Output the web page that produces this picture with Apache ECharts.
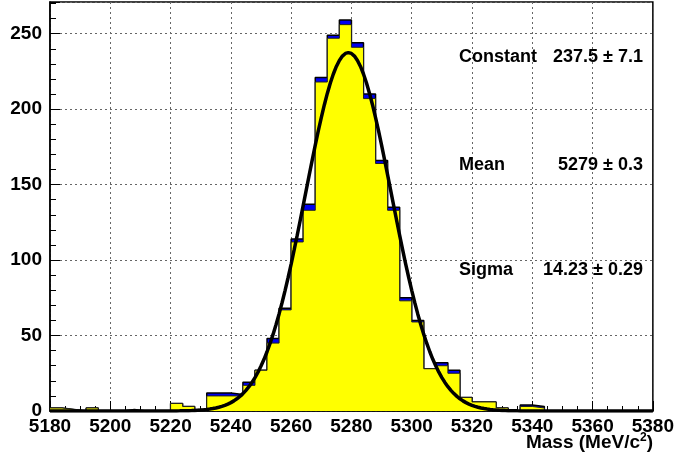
<!DOCTYPE html>
<html>
<head>
<meta charset="utf-8">
<script src="https://cdn.jsdelivr.net/npm/echarts@6/dist/echarts.min.js"></script>
<style>
  html, body { margin: 0; padding: 0; background: #fff; }
  #chartArea { width: 677px; height: 463px; }
</style>
</head>
<body>
<div id="chartArea"></div>
<script>
// binning of the mass histogram (MeV)
let binStart = 5180;
let binWidth = 4;
// counts per bin
let totalCounts = [2, 1, 0, 2, 0, 0, 1, 0, 0, 0, 5, 3, 1,
    12, 12, 11, 19, 27, 48, 68, 114, 137, 221, 249, 259, 244, 210, 166, 135,
    75, 60, 28, 32, 27, 9, 6, 6, 2, 0, 4, 3,
    0, 0, 0, 0, 0, 0, 0, 0, 0];
let yellowCounts = [2, 1, 0, 2, 0, 0, 0, 0, 0, 0, 5, 3, 0,
    10, 10, 10, 17, 27, 45, 67, 112, 133, 218, 247, 256, 241, 207, 164, 133,
    73, 59, 28, 30, 25, 9, 6, 6, 2, 0, 3, 2,
    0, 0, 0, 0, 0, 0, 0, 0, 0];
// gaussian fit result shown in the stats box
let fitConstant = 237.5;
let fitMean = 5279;
let fitSigma = 14.23;
let statNames = ['Constant', 'Mean', 'Sigma'];
let statValues = ['237.5 \u00b1 7.1', '5279 \u00b1 0.3', '14.23 \u00b1 0.29'];
let xTicks = [5180, 5380, 20];
let yTicks = [0, 271, 50];

let fontName = '"Liberation Sans", Arial, Helvetica, sans-serif';

function stepData(counts) {
    let out = [];
    for (let i = 0; i < counts.length; i++) {
        out.push([binStart + i * binWidth, counts[i]]);
    }
    out.push([binStart + counts.length * binWidth, counts[counts.length - 1]]);
    return out;
}

function fitCurve() {
    let pts = [];
    for (let x = xTicks[0]; x <= xTicks[1]; x += 1) {
        let z = (x - fitMean) / fitSigma;
        pts.push([x, fitConstant * Math.exp(-0.5 * z * z)]);
    }
    return pts;
}

let myChart = echarts.init(document.getElementById('chartArea'), null, {renderer: 'canvas'});

let statGraphics = [];
let statY = [58, 166, 271];
for (let i = 0; i < statNames.length; i++) {
    statGraphics.push({
        type: 'text', left: 459, top: statY[i] - 10, z: 100,
        style: {text: statNames[i], font: 'bold 18px ' + fontName, fill: '#000'}
    });
    statGraphics.push({
        type: 'text', right: 34, top: statY[i] - 10, z: 100,
        style: {text: statValues[i], font: 'bold 18px ' + fontName, fill: '#000', align: 'right'}
    });
}
statGraphics.push({
    type: 'text', right: 24, top: 432, z: 100,
    style: {
        text: 'Mass (MeV/c{sup|2})',
        font: 'bold 19px ' + fontName,
        fill: '#000',
        rich: {sup: {fontSize: 12, fontWeight: 'bold', fontFamily: fontName, verticalAlign: 'top', padding: [0, 0, 10, 0]}}
    }
});

let option = {
    animation: false,
    backgroundColor: '#fff',
    grid: {
        left: 50, right: 22, top: 2, bottom: 52,
        show: true, borderColor: '#000', borderWidth: 1.5, backgroundColor: '#fff'
    },
    xAxis: {
        type: 'value',
        min: xTicks[0], max: xTicks[1], interval: xTicks[2],
        axisLine: {show: true, onZero: false, lineStyle: {color: '#000', width: 1.5}},
        axisTick: {show: true, inside: true, length: 10, lineStyle: {color: '#000'}},
        minorTick: {show: true, splitNumber: 4, length: 5, lineStyle: {color: '#000'}},
        axisLabel: {color: '#000', fontSize: 19, fontWeight: 'bold', fontFamily: fontName, margin: 6,
            showMinLabel: true, showMaxLabel: true,
            formatter: function (v) { return String(v); }},
        splitLine: {show: true, lineStyle: {color: '#666', type: [2, 3], width: 1}}
    },
    yAxis: {
        type: 'value',
        min: yTicks[0], max: yTicks[1], interval: yTicks[2],
        axisLine: {show: true, lineStyle: {color: '#000', width: 1.5}},
        axisTick: {show: true, inside: true, length: 10, lineStyle: {color: '#000'}},
        minorTick: {show: true, splitNumber: 5, length: 6, lineStyle: {color: '#000'}},
        axisLabel: {color: '#000', fontSize: 19, fontWeight: 'bold', fontFamily: fontName, margin: 8,
            showMaxLabel: false,
            formatter: function (v) { return String(v); }},
        splitLine: {show: true, lineStyle: {color: '#666', type: [2, 3], width: 1}}
    },
    graphic: statGraphics,
    series: [
        {
            name: 'total',
            type: 'line',
            step: 'end',
            data: stepData(totalCounts),
            symbol: 'none',
            z: 2,
            lineStyle: {color: '#000', width: 1.5},
            areaStyle: {color: '#0000f0', opacity: 1}
        },
        {
            name: 'yellow',
            type: 'line',
            step: 'end',
            data: stepData(yellowCounts),
            symbol: 'none',
            z: 3,
            lineStyle: {color: '#202020', width: 1},
            areaStyle: {color: '#ffff00', opacity: 1}
        },
        {
            name: 'fit',
            type: 'line',
            data: fitCurve(),
            symbol: 'none',
            smooth: false,
            z: 4,
            lineStyle: {color: '#000', width: 3.5}
        }
    ]
};

if (option && typeof option === "object") {
    myChart.setOption(option, true);
}
</script>
</body>
</html>
